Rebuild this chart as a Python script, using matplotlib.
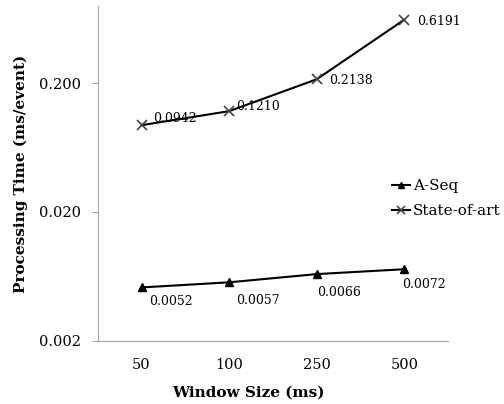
import matplotlib
matplotlib.use("Agg")
import matplotlib.pyplot as plt
from matplotlib.ticker import FixedLocator, NullLocator

# --- Data ---
window_sizes = ["50", "100", "250", "500"]
aseq_times = [0.0052, 0.0057, 0.0066, 0.0072]
sota_times = [0.0942, 0.1210, 0.2138, 0.6191]
y_ticks = [0.002, 0.020, 0.200]
y_tick_labels = ["0.002", "0.020", "0.200"]

plt.rcParams["font.family"] = ["DejaVu Serif"]

fig = plt.figure(figsize=(5.04, 4.04), dpi=100)
ax = fig.add_axes([0.194, 0.156, 0.695, 0.829])

x = list(range(len(window_sizes)))
ax.plot(x, aseq_times, color="black", lw=1.5, marker="^", ms=5.5,
        mfc="black", mec="black", label="A-Seq")
ax.plot(x, sota_times, color="black", lw=1.5, marker="x", ms=7,
        mew=1.2, mec="#444444", label="State-of-art")

# data labels (offsets in points)
sota_offsets = [(8, 5), (5, 3), (9, -1), (9, -1)]
for xi, v, off in zip(x, sota_times, sota_offsets):
    ax.annotate(f"{v:.4f}", (xi, v), xytext=off, textcoords="offset points",
                ha="left", va="center", fontsize=9)
aseq_offsets = [(21, -10), (21, -13), (16, -13), (14, -11)]
for xi, v, off in zip(x, aseq_times, aseq_offsets):
    ax.annotate(f"{v:.4f}", (xi, v), xytext=off, textcoords="offset points",
                ha="center", va="center", fontsize=9)

ax.set_yscale("log")
ax.set_ylim(0.002, 0.79)
ax.set_xlim(-0.5, 3.5)
ax.yaxis.set_major_locator(FixedLocator(y_ticks))
ax.yaxis.set_minor_locator(NullLocator())
ax.set_yticklabels(y_tick_labels, fontsize=10.5)
ax.set_xticks(x)
ax.set_xticklabels(window_sizes, fontsize=10.5)
ax.tick_params(axis="x", length=0, pad=12)
ax.tick_params(axis="y", length=4, color="#a6a6a6", pad=8)

for s in ["top", "right"]:
    ax.spines[s].set_visible(False)
for s in ["left", "bottom"]:
    ax.spines[s].set_color("#a6a6a6")

ax.set_xlabel("Window Size (ms)", fontsize=11, fontweight="bold")
ax.xaxis.set_label_coords(0.431, -0.132)
ax.set_ylabel("Processing Time (ms/event)", fontsize=11, fontweight="bold")
ax.yaxis.set_label_coords(-0.2, 0.5)

ax.legend(loc="center left", bbox_to_anchor=(0.84, 0.425), frameon=False,
          fontsize=11, handlelength=1.2, handletextpad=0.15, labelspacing=0.75,
          borderaxespad=0, borderpad=0, markerscale=0.9)

fig.savefig("out.png", dpi=100)
